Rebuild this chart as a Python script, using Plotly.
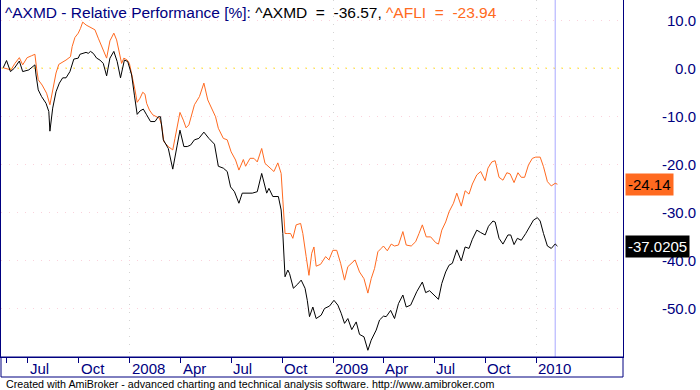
import plotly.graph_objects as go

# ---------------- data ----------------
axmd_dates = ["2007-05-18","2007-05-24","2007-05-31","2007-06-07","2007-06-16","2007-06-22","2007-07-03","2007-07-14","2007-07-16","2007-07-20",
"2007-07-26","2007-08-03","2007-08-08","2007-08-10","2007-08-15","2007-08-21","2007-08-27","2007-09-02","2007-09-08","2007-09-15",
"2007-09-22","2007-09-30","2007-10-03","2007-10-09","2007-10-14","2007-10-18","2007-10-22","2007-10-27","2007-11-02","2007-11-08",
"2007-11-14","2007-11-20","2007-11-26","2007-12-03","2007-12-09","2007-12-15","2007-12-22","2007-12-28","2008-01-04","2008-01-09",
"2008-01-14","2008-01-19","2008-01-25","2008-01-31","2008-02-07","2008-02-15","2008-02-21","2008-02-25","2008-03-01","2008-03-10",
"2008-03-18","2008-03-26","2008-03-31","2008-04-07","2008-04-13","2008-04-19","2008-04-26","2008-05-04","2008-05-13","2008-05-22",
"2008-06-01","2008-06-08","2008-06-17","2008-06-24","2008-06-30","2008-07-07","2008-07-15","2008-07-21","2008-07-30","2008-08-08",
"2008-08-17","2008-08-25","2008-09-03","2008-09-07","2008-09-14","2008-09-24","2008-09-29","2008-10-02","2008-10-06","2008-10-11",
"2008-10-14","2008-10-21","2008-10-29","2008-11-04","2008-11-11","2008-11-15","2008-11-19","2008-11-25","2008-12-01","2008-12-10",
"2008-12-16","2008-12-25","2009-01-02","2009-01-09","2009-01-15","2009-01-21","2009-01-27","2009-02-03","2009-02-11","2009-02-17",
"2009-02-25","2009-03-04","2009-03-10","2009-03-19","2009-03-25","2009-04-01","2009-04-06","2009-04-14","2009-04-21","2009-04-28",
"2009-05-06","2009-05-12","2009-05-20","2009-05-31","2009-06-10","2009-06-16","2009-06-23","2009-07-09","2009-07-15","2009-07-22",
"2009-07-28","2009-08-03","2009-08-11","2009-08-19","2009-08-26","2009-09-02","2009-09-08","2009-09-16","2009-09-23","2009-10-01",
"2009-10-07","2009-10-15","2009-10-19","2009-10-26","2009-11-02","2009-11-11","2009-11-16","2009-11-22","2009-11-28","2009-12-05",
"2009-12-13","2009-12-20","2009-12-27","2010-01-03","2010-01-08","2010-01-14","2010-01-21","2010-01-28","2010-02-04","2010-02-08"]
axmd_values = [0.1,1.6,-0.7,0.0,1.5,-0.7,-0.35,0.7,-1.4,-4.5,
-5.9,-7.3,-9.0,-13.1,-8.3,-4.9,-3.1,-2.0,-2.0,-0.7,
1.9,2.1,2.9,3.1,3.3,3.1,3.5,3.1,2.1,1.7,
1.0,-1.6,2.1,3.5,1.4,-2.0,1.7,1.4,-1.4,-5.6,
-9.6,-8.9,-8.5,-9.7,-11.1,-11.1,-10.1,-10.1,-14.9,-16.7,
-21.0,-16.0,-12.9,-16.3,-16.3,-16.0,-14.9,-14.6,-13.3,-14.6,
-15.8,-20.4,-20.8,-21.5,-24.7,-25.7,-28.1,-26.0,-26.0,-26.0,
-25.7,-21.9,-26.0,-25.0,-26.7,-26.7,-29.5,-34.4,-43.4,-42.0,
-42.7,-45.8,-44.9,-44.1,-45.8,-48.3,-51.7,-49.7,-52.1,-51.4,
-50.0,-49.5,-48.3,-49.3,-51.0,-53.1,-52.1,-54.4,-52.8,-55.4,
-55.9,-58.7,-56.6,-54.5,-52.4,-51.6,-51.7,-50.4,-52.1,-49.0,
-47.2,-49.7,-49.3,-46.5,-44.5,-46.7,-46.3,-48.1,-44.8,-42.4,
-41.0,-40.6,-37.8,-40.1,-37.2,-37.5,-35.6,-33.7,-34.2,-34.7,
-32.9,-31.8,-32.0,-35.4,-36.6,-34.7,-34.7,-36.7,-35.4,-35.8,
-34.4,-33.0,-31.6,-31.1,-31.8,-34.4,-37.0,-37.5,-36.57,-37.0205]

afli_dates = ["2007-05-18","2007-06-01","2007-06-08","2007-06-16","2007-06-22","2007-06-30","2007-07-08","2007-07-14","2007-07-17","2007-07-20",
"2007-07-27","2007-08-04","2007-08-10","2007-08-15","2007-08-21","2007-08-26","2007-09-02","2007-09-08","2007-09-16","2007-09-19",
"2007-09-24","2007-09-30","2007-10-04","2007-10-08","2007-10-14","2007-10-21","2007-10-30","2007-11-05","2007-11-13","2007-11-20",
"2007-11-26","2007-12-03","2007-12-08","2007-12-13","2007-12-17","2007-12-21","2007-12-27","2007-12-31","2008-01-06","2008-01-10",
"2008-01-14","2008-01-19","2008-01-24","2008-01-28","2008-01-31","2008-02-05","2008-02-11","2008-02-17","2008-02-23","2008-02-27",
"2008-03-02","2008-03-10","2008-03-18","2008-03-22","2008-03-27","2008-03-31","2008-04-06","2008-04-11","2008-04-16","2008-04-22",
"2008-04-26","2008-05-05","2008-05-13","2008-05-20","2008-05-28","2008-06-03","2008-06-08","2008-06-17","2008-06-24","2008-07-01",
"2008-07-09","2008-07-15","2008-07-23","2008-07-27","2008-08-04","2008-08-11","2008-08-17","2008-08-25","2008-08-31","2008-09-07",
"2008-09-16","2008-09-23","2008-09-29","2008-10-02","2008-10-06","2008-10-11","2008-10-16","2008-10-20","2008-10-26","2008-11-03",
"2008-11-07","2008-11-13","2008-11-18","2008-11-23","2008-11-27","2008-12-01","2008-12-09","2008-12-18","2008-12-24","2008-12-31",
"2009-01-07","2009-01-14","2009-01-21","2009-01-27","2009-02-01","2009-02-09","2009-02-17","2009-02-25","2009-03-04","2009-03-10",
"2009-03-16","2009-03-22","2009-03-28","2009-04-01","2009-04-08","2009-04-15","2009-04-21","2009-04-28","2009-05-06","2009-05-12",
"2009-05-21","2009-05-29","2009-06-04","2009-06-10","2009-06-17","2009-06-25","2009-07-04","2009-07-09","2009-07-15","2009-07-22",
"2009-07-28","2009-08-05","2009-08-11","2009-08-19","2009-08-26","2009-09-02","2009-09-08","2009-09-16","2009-09-23","2009-10-01",
"2009-10-06","2009-10-13","2009-10-19","2009-10-26","2009-11-02","2009-11-09","2009-11-15","2009-11-22","2009-11-29","2009-12-05",
"2009-12-11","2009-12-18","2009-12-25","2009-12-31","2010-01-08","2010-01-14","2010-01-21","2010-01-28","2010-02-04","2010-02-08"]
afli_values = [0.1,-0.35,1.0,2.2,0.7,2.2,2.6,2.9,0.0,-2.4,
-3.5,-5.2,-7.6,-4.9,-1.0,0.8,1.25,1.7,2.4,4.5,
6.4,7.3,8.3,9.6,9.0,8.5,8.0,6.25,4.2,2.1,
5.7,7.3,5.9,2.8,1.0,2.1,1.7,1.0,-2.1,-4.5,
-7.1,-6.25,-5.0,-5.4,-7.3,-8.7,-9.7,-10.1,-10.4,-11.8,
-15.3,-16.3,-17.0,-14.6,-11.8,-9.2,-10.8,-12.4,-11.8,-9.4,
-7.6,-5.9,-3.1,-6.6,-8.7,-10.1,-12.5,-14.6,-14.9,-17.4,
-19.1,-21.2,-19.0,-20.4,-18.75,-18.75,-19.5,-16.7,-19.8,-20.5,
-21.5,-19.7,-21.9,-27.4,-34.4,-34.4,-34.4,-35.4,-32.6,-32.3,
-34.4,-39.2,-43.1,-38.5,-37.2,-41.2,-40.8,-39.2,-39.9,-37.9,
-37.9,-40.6,-44.1,-41.3,-40.8,-39.9,-42.4,-43.8,-46.8,-43.8,
-41.7,-38.2,-37.5,-37.0,-38.0,-36.6,-37.0,-36.8,-34.0,-36.8,
-37.0,-36.1,-34.4,-32.6,-35.1,-35.1,-36.3,-36.6,-33.7,-32.0,
-29.9,-28.1,-26.0,-28.7,-25.5,-26.2,-24.1,-22.2,-21.5,-23.4,
-20.8,-19.5,-19.25,-22.7,-23.3,-21.75,-22.0,-23.8,-21.75,-22.7,
-22.7,-20.1,-18.75,-18.5,-18.5,-20.5,-23.6,-24.5,-23.94,-24.14]

tick_dates = ["2007-05-23","2007-07-01","2007-10-01","2008-01-01","2008-04-01","2008-07-01",
              "2008-10-01","2009-01-01","2009-04-01","2009-07-01","2009-10-01","2010-01-01"]
tick_labels = ["","Jul","Oct","2008","Apr","Jul","Oct","2009","Apr","Jul","Oct","2010"]
y_ticks = [10, 0, -10, -20, -30, -40, -50]

selected_date = "2010-02-04"
selected_axmd = -36.57
selected_afli = -23.94
last_axmd = -37.0205
last_afli = -24.14

# ---------------- style ----------------
NAVY = "#000080"
ORANGE = "#FF6A20"
FONT = "Liberation Sans, Arial, sans-serif"

fig = go.Figure()
fig.add_trace(go.Scatter(x=afli_dates, y=afli_values, mode="lines",
                         line=dict(color=ORANGE, width=1), name="^AFLI"))
fig.add_trace(go.Scatter(x=axmd_dates, y=axmd_values, mode="lines",
                         line=dict(color="#000000", width=1), name="^AXMD"))

fig.update_layout(
    width=700, height=390, autosize=False,
    margin=dict(l=1, r=77, t=0, b=33),
    paper_bgcolor="white", plot_bgcolor="white",
    showlegend=False,
    font=dict(family=FONT, size=15, color=NAVY),
)

fig.update_xaxes(
    type="date", range=["2007-05-14", "2010-06-06"],
    showgrid=False, zeroline=False,
    showline=True, linecolor=NAVY, linewidth=1,
    tickvals=tick_dates, ticktext=[""] * len(tick_dates), showticklabels=False,
    ticks="outside", ticklen=5, tickcolor=NAVY, tickwidth=1,
    minor=dict(dtick="M12", tick0="2008-01-01", showgrid=True,
               gridcolor="#D4D4D4", griddash="1px,7px", gridwidth=1, ticks=""),
)
fig.update_yaxes(
    range=[-60.1, 14.2], side="right",
    tickvals=y_ticks, showticklabels=False, ticks="",
    showgrid=True, gridcolor="#FAD2DC", griddash="1px,7px", gridwidth=1,
    zeroline=False,
    showline=True, mirror=True, linecolor=NAVY, linewidth=1,
)

# zero line (yellow dotted)
fig.add_shape(type="line", xref="paper", x0=0, x1=1, yref="y", y0=0, y1=0,
              line=dict(color="#FFE800", width=1, dash="2px,6px"), layer="below")
# selected bar line
fig.add_shape(type="line", xref="x", x0=selected_date, x1=selected_date,
              yref="paper", y0=0, y1=1, line=dict(color="#A8A8FF", width=1), layer="below")
# x-axis band box
fig.add_shape(type="rect", xref="paper", x0=0, x1=1, yref="paper", y0=-20/357, y1=0,
              line=dict(color=NAVY, width=1))

annotations = []
# y tick labels (right aligned)
for v in y_ticks:
    annotations.append(dict(xref="paper", x=1, xanchor="right", xshift=75,
                            yref="y", y=v, yanchor="middle", showarrow=False,
                            text=f"{v:.1f}", font=dict(family=FONT, size=15, color=NAVY)))
# x tick labels (left aligned at tick)
for d, lab in zip(tick_dates, tick_labels):
    if lab:
        annotations.append(dict(xref="x", x=d, xanchor="left", xshift=0,
                                yref="paper", y=0, yanchor="top", yshift=-1,
                                showarrow=False, text=lab,
                                font=dict(family=FONT, size=15, color=NAVY)))
# last value labels
annotations.append(dict(xref="paper", x=1, xanchor="left", xshift=2,
                        yref="y", y=last_afli, yanchor="middle", showarrow=False,
                        text=f"{last_afli:.2f}", bgcolor=ORANGE, borderpad=2,
                        font=dict(family=FONT, size=15, color="#000000")))
annotations.append(dict(xref="paper", x=1, xanchor="left", xshift=2,
                        yref="y", y=last_axmd, yanchor="middle", showarrow=False,
                        text=f"{last_axmd:.4f}", bgcolor="#000000", borderpad=2,
                        font=dict(family=FONT, size=15, color="#FFFFFF")))
# title
title_text = (f"<span style='color:{NAVY}'>^AXMD - Relative Performance [%]: </span>"
              f"<span style='color:#000000'>^AXMD&nbsp; =&nbsp; {selected_axmd:.2f}, </span>"
              f"<span style='color:{ORANGE}'>^AFLI&nbsp; =&nbsp; {selected_afli:.2f}</span>")
annotations.append(dict(xref="paper", x=0, xanchor="left", xshift=2,
                        yref="paper", y=1, yanchor="top", yshift=-2,
                        showarrow=False, text=title_text,
                        font=dict(family=FONT, size=15.5, color=NAVY)))
# footer
annotations.append(dict(xref="paper", x=0, xanchor="left", xshift=3,
                        yref="paper", y=0, yanchor="middle", yshift=-26.5,
                        showarrow=False,
                        text="Created with AmiBroker - advanced charting and technical analysis software. http://www.amibroker.com",
                        font=dict(family=FONT, size=10.7, color="#000000")))
fig.update_layout(annotations=annotations)

fig.write_html("out.html", config={"displayModeBar": False},
               post_script="document.body.style.margin='0';document.body.style.overflow='hidden';")
